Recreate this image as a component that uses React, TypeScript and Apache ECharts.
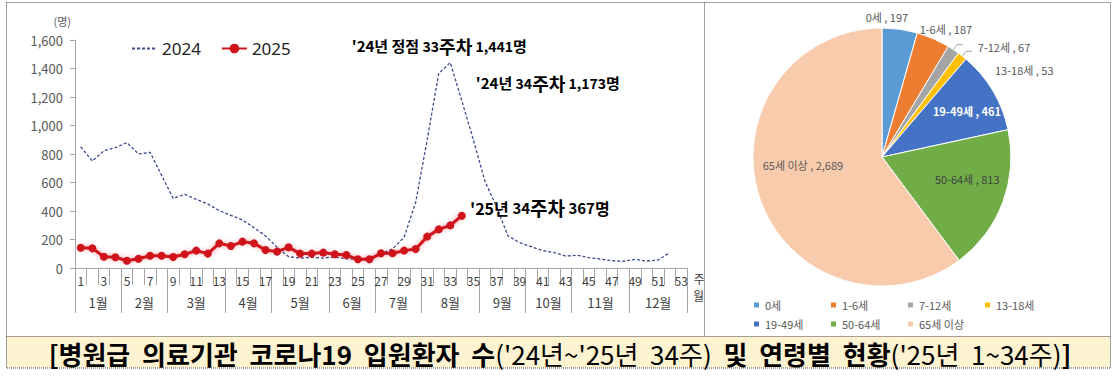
import React, { useEffect, useRef } from 'react';
import * as echarts from 'echarts';

const FONT = '"Noto Sans CJK KR", "Noto Sans", sans-serif';

const weekLabels = [
  '1','2','3','4','5','6','7','8','9','10','11','12','13','14','15','16','17','18','19','20',
  '21','22','23','24','25','26','27','28','29','30','31','32','33','34','35','36','37','38','39','40',
  '41','42','43','44','45','46','47','48','49','50','51','52','53',
];
const monthLabels = ['1월','2월','3월','4월','5월','6월','7월','8월','9월','10월','11월','12월'];
const monthWeekCounts = [4, 4, 5, 4, 5, 4, 4, 5, 4, 4, 5, 5];

const values2024 = [
  851, 750, 823, 845, 880, 800, 812, 650, 489, 517, 482, 449, 402, 370, 337, 283, 225, 145, 79, 70,
  75, 70, 78, 65, 60, 72, 100, 135, 215, 460, 900, 1366, 1441, 1173, 900, 610, 430, 225, 178, 150,
  122, 108, 84, 89, 73, 63, 51, 47, 61, 49, 56, 107,
];
const values2025 = [
  142, 138, 79, 75, 51, 65, 86, 86, 77, 96, 122, 101, 173, 154, 185, 173, 126, 115, 145, 101,
  101, 108, 96, 91, 61, 61, 103, 103, 122, 133, 220, 271, 299, 367,
];

const ageGroups = ['0세', '1-6세', '7-12세', '13-18세', '19-49세', '50-64세', '65세 이상'];
const ageCounts = [197, 187, 67, 53, 461, 813, 2689];
const ageColors = ['#5B9BD5', '#ED7D31', '#A5A5A5', '#FFC000', '#4472C4', '#70AD47', '#F8CBAD'];
const ageLabelInside = [false, false, false, false, true, true, true];
const ageLabelLine = [false, false, true, true, false, false, false];
const ageLabelShift = [[-46, -6], [-27, -4], [10, 2], [18, 19], [27, -11], [22, -2], [-15, -13]];
const ageLabelStyle = [
  { color: '#595959', fontWeight: 'normal' },
  { color: '#595959', fontWeight: 'normal' },
  { color: '#595959', fontWeight: 'normal' },
  { color: '#595959', fontWeight: 'normal' },
  { color: '#ffffff', fontWeight: 'bold' },
  { color: '#404040', fontWeight: 'normal' },
  { color: '#595959', fontWeight: 'normal' },
];

const fmt = (v: number) => v.toLocaleString('en-US');

export default function App() {
  const ref = useRef<HTMLDivElement>(null);

  useEffect(() => {
    if (!ref.current) return;
    const chart = echarts.init(ref.current, null, { renderer: 'svg' });

    const bounds: number[] = [0];
    monthWeekCounts.forEach((c) => bounds.push(bounds[bounds.length - 1] + c));
    const mids = monthWeekCounts.map((c, i) => bounds[i] + c / 2);

    const peakIdx = values2024.indexOf(Math.max(...values2024));
    const last25 = values2025.length - 1;

    const annRich = (big: number, small: number, k: number) => ({
      b: { fontSize: big, fontWeight: 'bold', color: '#000', fontFamily: FONT },
      n: { fontSize: small, fontWeight: 'bold', color: '#000', fontFamily: FONT },
      k: { fontSize: k, fontWeight: 'bold', color: '#000', fontFamily: FONT },
    });

    const option: any = {
      animation: false,
      textStyle: { fontFamily: FONT },
      graphic: [
        { type: 'rect', shape: { x: 6.5, y: 336.5, width: 1104, height: 31 }, style: { fill: '#FEF3D0', stroke: 'none' }, z: -1 },
        { type: 'rect', shape: { x: 6.5, y: 2.5, width: 1104, height: 365.5 }, style: { fill: 'none', stroke: '#444', lineWidth: 1, lineDash: [1, 1] } },
        { type: 'line', shape: { x1: 704.5, y1: 2.5, x2: 704.5, y2: 336.5 }, style: { stroke: '#444', lineWidth: 1, lineDash: [1, 1] } },
        { type: 'line', shape: { x1: 6.5, y1: 336.5, x2: 1110.5, y2: 336.5 }, style: { stroke: '#444', lineWidth: 1, lineDash: [1, 1] } },
        {
          type: 'text',
          x: 560,
          y: 353,
          style: {
            text: '{b|[병원급  의료기관  코로나19  입원환자  수}{r|(\'24년~\'25년  34주)}{b|  및  연령별  현황}{r|(\'25년  1~34주)}{b|]}',
            textAlign: 'center',
            textVerticalAlign: 'middle',
            rich: {
              b: { fontSize: 26, fontWeight: 'bold', fill: '#000', fontFamily: FONT, lineHeight: 30 },
              r: { fontSize: 26, fontWeight: 'normal', fill: '#000', fontFamily: FONT, lineHeight: 30 },
            },
          },
        },
      ],
      legend: [
        {
          data: [{ name: '2024', itemStyle: { opacity: 0 } }, { name: '2025' }],
          left: 126,
          top: 35,
          itemWidth: 25,
          itemHeight: 12,
          itemGap: 20,
          selectedMode: false,
          textStyle: { fontSize: 17, color: '#222', fontFamily: '"Noto Sans", sans-serif' },
        },
        {
          data: ageGroups,
          left: 747,
          top: 293,
          width: 320,
          itemWidth: 7,
          itemHeight: 7,
          itemGap: 5,
          icon: 'rect',
          selectedMode: false,
          formatter: (n: string) => `{w|${n}}`,
          textStyle: {
            fontSize: 11,
            color: '#595959',
            rich: { w: { width: 59, height: 14, lineHeight: 14, fontSize: 11, color: '#595959' } },
          },
        },
      ],
      grid: { left: 75, top: 40, width: 612, height: 228 },
      xAxis: [
        {
          type: 'category',
          data: weekLabels,
          position: 'bottom',
          boundaryGap: true,
          axisLine: { onZero: false, lineStyle: { color: '#a6a6a6' } },
          axisTick: { show: true, interval: 0, length: 17, lineStyle: { color: '#a6a6a6' } },
          axisLabel: { interval: 1, color: '#404040', fontSize: 12, margin: 6 },
          name: '주',
          nameLocation: 'end',
          nameGap: 6,
          nameTextStyle: { color: '#404040', fontSize: 12, verticalAlign: 'top', padding: [4, 0, 0, 0] },
        },
        {
          type: 'value',
          min: 0,
          max: bounds[bounds.length - 1],
          position: 'bottom',
          axisLine: { show: false, onZero: false },
          splitLine: { show: false },
          axisTick: { show: true, length: 45, customValues: bounds, lineStyle: { color: '#a6a6a6' } },
          axisLabel: {
            customValues: mids,
            color: '#404040',
            fontSize: 13,
            margin: 28,
            formatter: (v: number) => monthLabels[mids.indexOf(v)] ?? '',
          },
          name: '월',
          nameLocation: 'end',
          nameGap: 6,
          nameTextStyle: { color: '#404040', fontSize: 12, verticalAlign: 'top', padding: [21, 0, 0, 0] },
        },
      ],
      yAxis: {
        type: 'value',
        min: 0,
        max: 1600,
        interval: 200,
        axisLine: { show: true, lineStyle: { color: '#a6a6a6' } },
        axisTick: { show: true, length: 5, lineStyle: { color: '#a6a6a6' } },
        splitLine: { show: false },
        axisLabel: { color: '#595959', fontSize: 13, margin: 12, formatter: (v: number) => fmt(v) },
        name: '(명)',
        nameLocation: 'end',
        nameGap: 14,
        nameTextStyle: { color: '#595959', fontSize: 11, align: 'right', padding: [0, 4, 0, 0] },
      },
      series: [
        {
          name: '2024',
          type: 'line',
          data: values2024,
          xAxisIndex: 0,
          yAxisIndex: 0,
          symbol: 'none',
          z: 2,
          lineStyle: { color: '#3d4b8f', width: 1.3, type: [3, 2] },
          itemStyle: { color: '#3d4b8f' },
          markPoint: {
            symbol: 'circle',
            symbolSize: 0,
            data: [
              {
                coord: [peakIdx, values2024[peakIdx]],
                label: {
                  show: true,
                  position: 'inside',
                  offset: [-11, -17],
                  formatter: `{b|'24년 정점 }{n|${peakIdx + 1}}{k|주차}{n| ${fmt(values2024[peakIdx])}}{b|명}`,
                  rich: annRich(15, 14, 18),
                },
              },
              {
                coord: [last25, values2024[last25]],
                label: {
                  show: true,
                  position: 'inside',
                  offset: [86, -18],
                  formatter: `{b|'24년 }{n|${last25 + 1}}{k|주차}{n| ${fmt(values2024[last25])}}{b|명}`,
                  rich: annRich(15, 14, 18),
                },
              },
            ],
          },
        },
        {
          name: '2025',
          type: 'line',
          data: values2025,
          xAxisIndex: 0,
          yAxisIndex: 0,
          symbol: 'circle',
          symbolSize: 8,
          showAllSymbol: true,
          z: 3,
          lineStyle: { color: '#d0121b', width: 3, shadowColor: 'rgba(208,18,27,0.45)', shadowBlur: 5 },
          itemStyle: { color: '#d0121b' },
          markPoint: {
            symbol: 'circle',
            symbolSize: 0,
            data: [
              {
                coord: [last25, values2025[last25]],
                label: {
                  show: true,
                  position: 'inside',
                  offset: [78, -8],
                  formatter: `{b|'25년 }{n|${last25 + 1}}{k|주차}{n| ${fmt(values2025[last25])}}{b|명}`,
                  rich: annRich(16, 15, 19),
                },
              },
            ],
          },
        },
        {
          type: 'pie',
          center: [882, 157],
          radius: 129,
          startAngle: 90,
          clockwise: true,
          avoidLabelOverlap: false,
          itemStyle: { borderColor: '#fff', borderWidth: 1 },
          labelLine: { length: 6, length2: 6, lineStyle: { color: '#a6a6a6', width: 1 } },
          label: {
            fontSize: 11,
            formatter: (p: any) => `${p.name} , ${fmt(p.value)}`,
          },
          labelLayout: (p: any) => ({ dx: ageLabelShift[p.dataIndex][0], dy: ageLabelShift[p.dataIndex][1] }),
          emphasis: { disabled: true },
          data: ageGroups.map((name, i) => ({
            name,
            value: ageCounts[i],
            itemStyle: { color: ageColors[i] },
            label: {
              show: true,
              position: ageLabelInside[i] ? 'inside' : 'outside',
              color: ageLabelStyle[i].color,
              fontWeight: ageLabelStyle[i].fontWeight,
            },
            labelLine: { show: ageLabelLine[i] },
          })),
        },
      ],
    };

    chart.setOption(option);
    return () => chart.dispose();
  }, []);

  return (
    <div
      ref={ref}
      style={{ position: 'absolute', left: 0, top: 0, width: 1118, height: 388, background: '#fff' }}
    />
  );
}
